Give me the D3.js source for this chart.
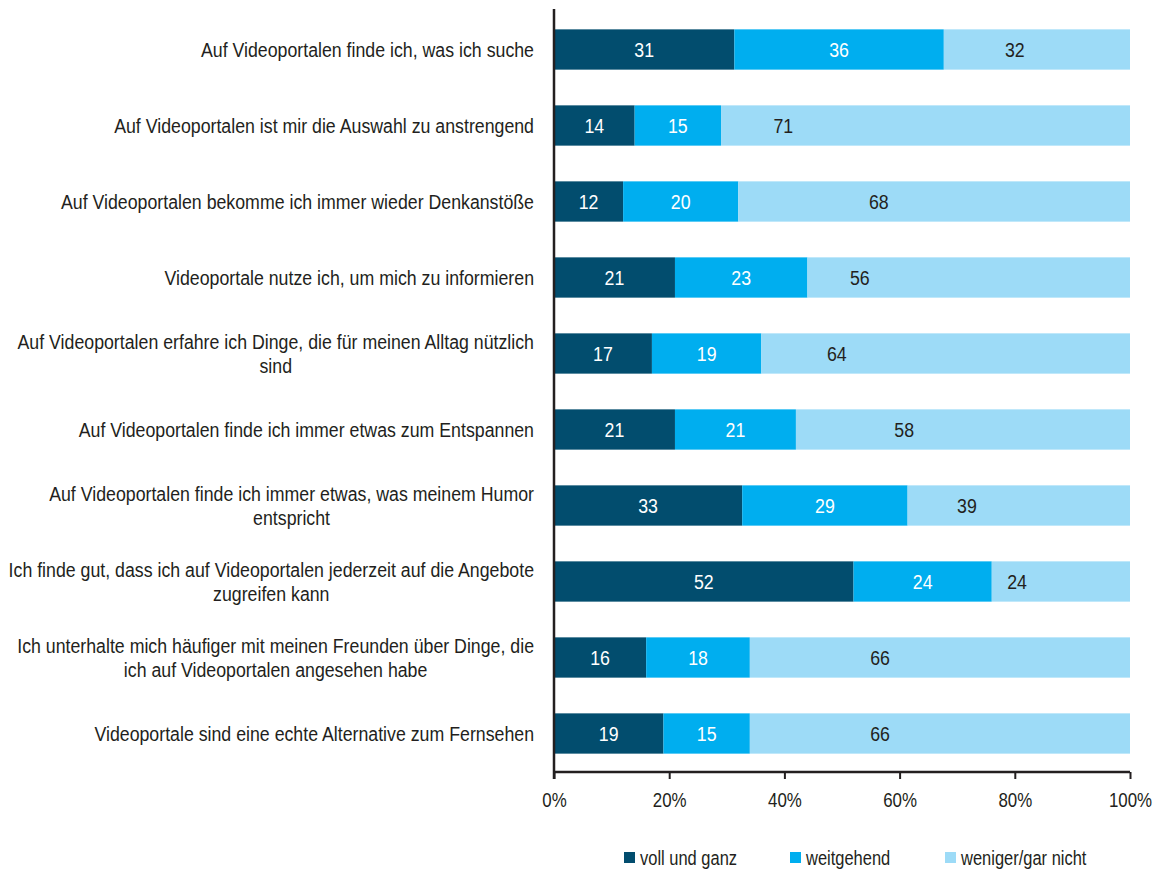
<!DOCTYPE html>
<html>
<head>
<meta charset="utf-8">
<script src="https://cdn.jsdelivr.net/npm/d3@7"></script>
<style>
	body { margin: 0; background: #fff; }
	text { font-family: "Liberation Sans", Arial, sans-serif; }
</style>
</head>
<body>
<div id="chart"></div>
<script>
// statements (each line of a label is one entry)
var statements = [
	["Auf Videoportalen finde ich, was ich suche"],
	["Auf Videoportalen ist mir die Auswahl zu anstrengend"],
	["Auf Videoportalen bekomme ich immer wieder Denkanstöße"],
	["Videoportale nutze ich, um mich zu informieren"],
	["Auf Videoportalen erfahre ich Dinge, die für meinen Alltag nützlich", "sind"],
	["Auf Videoportalen finde ich immer etwas zum Entspannen"],
	["Auf Videoportalen finde ich immer etwas, was meinem Humor", "entspricht"],
	["Ich finde gut, dass ich auf Videoportalen jederzeit auf die Angebote", "zugreifen kann"],
	["Ich unterhalte mich häufiger mit meinen Freunden über Dinge, die", "ich auf Videoportalen angesehen habe"],
	["Videoportale sind eine echte Alternative zum Fernsehen"]
];

var seriesNames = ["voll und ganz", "weitgehend", "weniger/gar nicht"];

var vollUndGanz = [31, 14, 12, 21, 17, 21, 33, 52, 16, 19];
var weitgehend  = [36, 15, 20, 23, 19, 21, 29, 24, 18, 15];
var wenigerGar  = [32, 71, 68, 56, 64, 58, 39, 24, 66, 66];

// where the original puts the "weniger/gar nicht" labels (share of the axis)
var wenigerLabelAt = [0.800, 0.398, 0.564, 0.531, 0.491, 0.608, 0.717, 0.804, 0.566, 0.566];

var xTicks = [0, 0.2, 0.4, 0.6, 0.8, 1];

var colors = ["#024d6e", "#00aeef", "#9ddbf7"];
var textColors = ["#fff", "#fff", "#231f20"];
var ink = "#231f20";

var width = 1155, height = 869;
var plotLeft = 554, plotRight = 1130, plotTop = 11.5, plotBottom = 771.5;
var fontSize = 21, squeeze = 0.845;

var svg = d3.select("#chart").append("svg")
	.attr("width", width)
	.attr("height", height);

// narrow look: normal font squeezed horizontally around (x, y)
function condensed(sel, x, y) {
	sel.attr("x", 0).attr("y", 0)
		.attr("transform", "translate(" + x + "," + y + ") scale(" + squeeze + ",1)");
}

// build rows, normalised to 100%
var rows = statements.map(function (s, i) {
	var vals = [vollUndGanz[i], weitgehend[i], wenigerGar[i]];
	var total = d3.sum(vals);
	var x0 = 0;
	var segs = vals.map(function (v, k) {
		var seg = { key: k, value: v, x0: x0, x1: x0 + v / total, row: i };
		x0 += v / total;
		return seg;
	});
	return { id: i, label: s, segs: segs };
});

var xScale = d3.scaleLinear().domain([0, 1]).range([plotLeft, plotRight]);
var yScale = d3.scaleBand()
	.domain(rows.map(function (d) { return d.id; }))
	.range([plotTop, plotBottom])
	.paddingInner(0.47)
	.paddingOuter(0.235);

var rowG = svg.selectAll(".row")
	.data(rows).enter()
	.append("g")
	.attr("class", "row")
	.attr("transform", function (d) { return "translate(0," + yScale(d.id) + ")"; });

rowG.selectAll("rect")
	.data(function (d) { return d.segs; }).enter()
	.append("rect")
	.attr("x", function (d) { return xScale(d.x0); })
	.attr("width", function (d) { return xScale(d.x1) - xScale(d.x0); })
	.attr("y", 0)
	.attr("height", yScale.bandwidth())
	.attr("fill", function (d) { return colors[d.key]; });

rowG.selectAll(".val")
	.data(function (d) { return d.segs; }).enter()
	.append("text")
	.attr("class", "val")
	.attr("dy", "0.36em")
	.attr("text-anchor", "middle")
	.attr("font-size", fontSize)
	.attr("fill", function (d) { return textColors[d.key]; })
	.text(function (d) { return d.value; })
	.each(function (d) {
		var cx = d.key === 2 ? xScale(wenigerLabelAt[d.row]) : (xScale(d.x0) + xScale(d.x1)) / 2;
		condensed(d3.select(this), cx, yScale.bandwidth() / 2);
	});

// category labels, right aligned; a second line is centred under the first
rowG.each(function (d) {
	var g = d3.select(this);
	var n = d.label.length;
	var w0 = 0;
	d.label.forEach(function (line, j) {
		var t = g.append("text")
			.attr("class", "cat")
			.attr("font-size", fontSize)
			.attr("fill", ink)
			.attr("dy", "0.36em")
			.text(line);
		var y = yScale.bandwidth() / 2 + (j - (n - 1) / 2) * 24;
		if (j === 0) {
			t.attr("text-anchor", "end");
			condensed(t, 534, y);
			w0 = t.node().getComputedTextLength() * squeeze;
		} else {
			t.attr("text-anchor", "middle");
			condensed(t, 534 - w0 / 2, y);
		}
	});
});

// axes
var xAxis = d3.axisBottom(xScale)
	.tickValues(xTicks)
	.tickSize(7)
	.tickFormat(d3.format(".0%"));

var gx = svg.append("g")
	.attr("transform", "translate(0,772)")
	.call(xAxis);
gx.select(".domain").attr("stroke", ink).attr("stroke-width", 2.5).attr("d", "M" + plotLeft + ",0H" + plotRight);
gx.selectAll(".tick line").attr("stroke", ink).attr("stroke-width", 2);
gx.selectAll(".tick text")
	.attr("font-size", 20)
	.attr("fill", ink)
	.attr("dy", "0.36em")
	.attr("font-family", null)
	.each(function () { condensed(d3.select(this), 0, 28); });

svg.append("line")
	.attr("x1", plotLeft).attr("x2", plotLeft)
	.attr("y1", 9).attr("y2", 779)
	.attr("stroke", ink)
	.attr("stroke-width", 2.5);

// legend
var legendX = [624, 790, 945];
var legend = svg.selectAll(".legend")
	.data(seriesNames).enter()
	.append("g")
	.attr("class", "legend")
	.attr("transform", function (d, i) { return "translate(" + legendX[i] + ",852)"; });

legend.append("rect")
	.attr("width", 11).attr("height", 11)
	.attr("fill", function (d, i) { return colors[i]; });

legend.append("text")
	.attr("dy", "0.36em")
	.attr("font-size", 19.5)
	.attr("fill", ink)
	.text(function (d) { return d; })
	.each(function () { condensed(d3.select(this), 16, 5.5); });
</script>
</body>
</html>
